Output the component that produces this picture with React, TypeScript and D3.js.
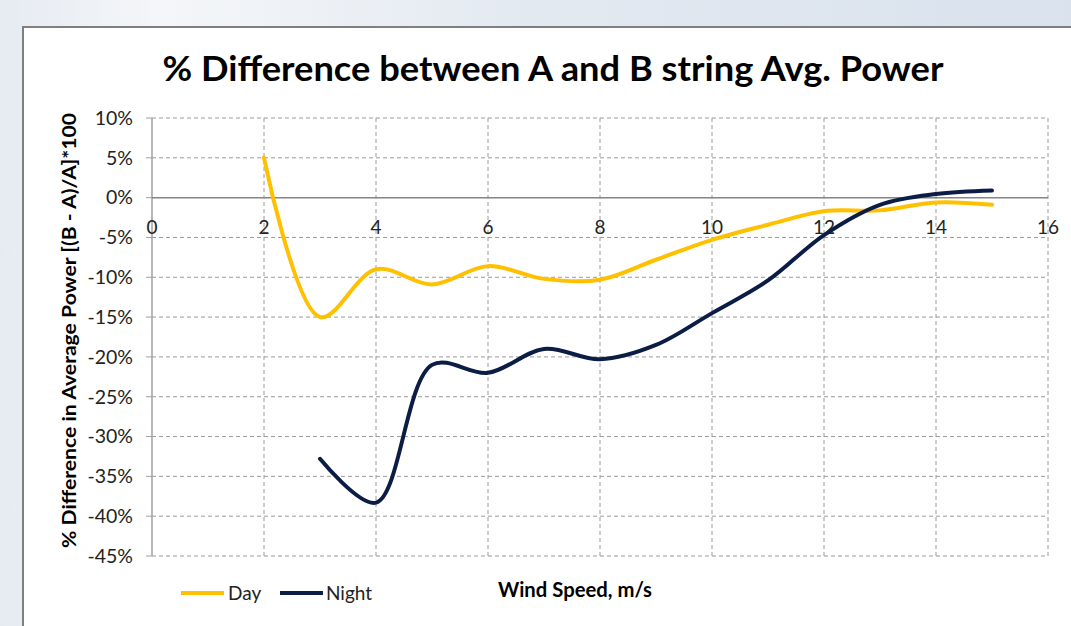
import React from "react";
import * as d3 from "d3";

const windSpeedDay = [2, 3, 4, 5, 6, 7, 8, 9, 10, 11, 12, 13, 14, 15];
const dayValues = [5.0, -15.0, -9.0, -10.9, -8.6, -10.2, -10.3, -7.8, -5.3, -3.4, -1.7, -1.6, -0.6, -0.9];
const windSpeedNight = [3, 4, 5, 6, 7, 8, 9, 10, 11, 12, 13, 14, 15];
const nightValues = [-32.8, -38.3, -21.0, -22.0, -19.0, -20.3, -18.5, -14.5, -10.4, -4.7, -0.9, 0.45, 0.9];
const xTicks = [0, 2, 4, 6, 8, 10, 12, 14, 16];
const yTicks = [10, 5, 0, -5, -10, -15, -20, -25, -30, -35, -40, -45];

const W = 1071;
const H = 626;
const FONT = "Lato, 'Open Sans', sans-serif";

export default function App() {
  const x = d3.scaleLinear().domain([0, 16]).range([152, 1048]);
  const y = d3.scaleLinear().domain([10, -45]).range([118, 556]);
  const line = d3
    .line<[number, number]>()
    .x((d) => x(d[0]))
    .y((d) => y(d[1]))
    .curve(d3.curveCatmullRom.alpha(0.5));
  const dayPts = windSpeedDay.map((v, i) => [v, dayValues[i]] as [number, number]);
  const nightPts = windSpeedNight.map((v, i) => [v, nightValues[i]] as [number, number]);
  const dayColor = "#FFC000";
  const nightColor = "#0C1D45";
  const grid = "#9a9a9a";

  return (
    <svg width={W} height={H} style={{ position: "absolute", left: 0, top: 0 }} fontFamily={FONT}>
      <defs>
        <linearGradient id="bg" x1="0" y1="0" x2="1" y2="0">
          <stop offset="0" stopColor="#e6ebf2" />
          <stop offset="0.15" stopColor="#f4f6f9" />
          <stop offset="0.5" stopColor="#e3e9f1" />
          <stop offset="1" stopColor="#d9e2ed" />
        </linearGradient>
      </defs>
      <rect x={0} y={0} width={W} height={H} fill="url(#bg)" />
      <rect x={23} y={27} width={W + 10} height={H + 10} fill="#ffffff" stroke="#7f7f7f" strokeWidth={2} />

      <text x={553} y={81} textAnchor="middle" fontSize={35} fontWeight="bold" fill="#000" textLength={781} lengthAdjust="spacingAndGlyphs">
        % Difference between A and B string Avg. Power
      </text>

      {yTicks.map((t) =>
        t === 0 ? null : (
          <line key={"h" + t} x1={x(0)} x2={x(16)} y1={y(t)} y2={y(t)} stroke={grid} strokeWidth={1} strokeDasharray="4,3" />
        )
      )}
      {xTicks.slice(1).map((t) => (
        <line key={"v" + t} x1={x(t)} x2={x(t)} y1={y(10)} y2={y(-45)} stroke={grid} strokeWidth={1} strokeDasharray="4,3" />
      ))}
      <line x1={x(0)} x2={x(0)} y1={y(10)} y2={y(-45)} stroke="#a0a0a0" strokeWidth={1.5} />
      {yTicks.map((t) => (
        <line key={"yt" + t} x1={x(0) - 6} x2={x(0)} y1={y(t)} y2={y(t)} stroke="#a0a0a0" strokeWidth={1} />
      ))}
      <line x1={x(0)} x2={x(16)} y1={y(0)} y2={y(0)} stroke="#868686" strokeWidth={1.5} />

      {yTicks.map((t) => (
        <text key={"yl" + t} x={133} y={y(t)} dy="0.35em" textAnchor="end" fontSize={19.5} fill="#222">
          {t}%
        </text>
      ))}
      {xTicks.map((t) => (
        <text key={"xl" + t} x={x(t)} y={227} dy="0.35em" textAnchor="middle" fontSize={19} fill="#222">
          {t}
        </text>
      ))}

      <path d={line(dayPts) || ""} fill="none" stroke={dayColor} strokeWidth={4} strokeLinecap="round" />
      <path d={line(nightPts) || ""} fill="none" stroke={nightColor} strokeWidth={4} strokeLinecap="round" />

      <text
        transform={`translate(76,${(113 + 548) / 2}) rotate(-90)`}
        textAnchor="middle"
        fontSize={19}
        fontWeight="bold"
        fill="#000"
        textLength={435}
        lengthAdjust="spacingAndGlyphs"
      >
        % Difference in Average Power [(B - A)/A]*100
      </text>

      <text x={575} y={597} textAnchor="middle" fontSize={20} fontWeight="bold" fill="#000" textLength={154} lengthAdjust="spacingAndGlyphs">
        Wind Speed, m/s
      </text>

      <line x1={181} x2={224} y1={593} y2={593} stroke={dayColor} strokeWidth={4} />
      <text x={228} y={593} dy="0.35em" fontSize={19} fill="#222">Day</text>
      <line x1={280} x2={323} y1={593} y2={593} stroke={nightColor} strokeWidth={4} />
      <text x={326} y={593} dy="0.35em" fontSize={19} fill="#222">Night</text>
    </svg>
  );
}
